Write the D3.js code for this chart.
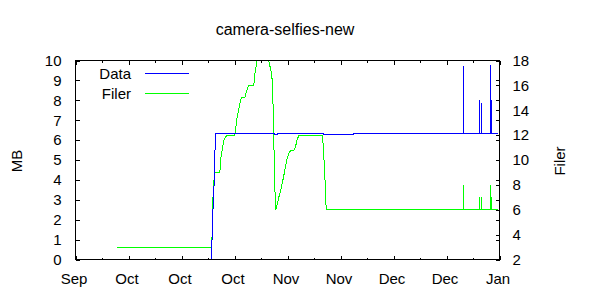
<!DOCTYPE html>
<html>
<head>
<meta charset="utf-8">
<script src="https://cdn.jsdelivr.net/npm/d3@7"></script>
<style>
  body { margin: 0; background: #fff; }
  text { font-family: "Liberation Sans", Arial, sans-serif; fill: #000; }
</style>
</head>
<body>
<div id="chart"></div>
<script>
// Data series: [time, value]
let dataPoints = [
  ["2012-10-22 22:00", 0], ["2012-10-23 06:30", 2.4], ["2012-10-23 12:00", 3.0],
  ["2012-10-23 14:40", 3.9], ["2012-10-23 20:20", 5.5], ["2012-10-24 02:40", 6.33],
  ["2012-11-08 13:00", 6.33], ["2012-11-08 14:00", 6.28], ["2012-11-09 08:00", 6.28],
  ["2012-11-09 09:00", 6.33], ["2012-11-21 10:00", 6.33], ["2012-11-21 11:00", 6.28],
  ["2012-11-29 08:00", 6.28], ["2012-11-29 09:00", 6.33],
  ["2012-12-28 12:00", 6.33], ["2012-12-28 13:00", 9.71], ["2012-12-28 14:00", 6.33],
  ["2013-01-01 18:00", 6.33], ["2013-01-01 19:00", 8.04], ["2013-01-01 20:00", 6.33],
  ["2013-01-02 07:00", 6.33], ["2013-01-02 08:00", 7.84], ["2013-01-02 09:00", 6.33],
  ["2013-01-04 16:00", 6.33], ["2013-01-04 17:00", 9.75], ["2013-01-04 18:00", 6.33],
  ["2013-01-04 22:00", 6.33], ["2013-01-04 23:00", 8.04], ["2013-01-05 00:00", 6.33],
  ["2013-01-06 15:50", 6.33]
];

let filerPoints = [
  ["2012-09-27 20:00", 3], ["2012-10-23 00:00", 3], ["2012-10-23 06:30", 6.7],
  ["2012-10-23 12:45", 8.2], ["2012-10-23 19:10", 9.0], ["2012-10-25 03:00", 9.0],
  ["2012-10-25 09:00", 10.1], ["2012-10-25 15:30", 10.6], ["2012-10-25 22:00", 11.1],
  ["2012-10-26 04:00", 11.6], ["2012-10-26 21:20", 11.95], ["2012-10-29 02:00", 11.95],
  ["2012-10-29 14:40", 13.3], ["2012-10-30 03:20", 14.1], ["2012-10-30 16:00", 14.9],
  ["2012-10-30 22:20", 15.0], ["2012-10-31 17:20", 15.0], ["2012-11-01 06:00", 15.6],
  ["2012-11-01 18:40", 16.0], ["2012-11-03 02:20", 16.0], ["2012-11-03 08:40", 16.9],
  ["2012-11-04 03:40", 18.4], ["2012-11-04 11:20", 18.8], ["2012-11-06 06:30", 18.8],
  ["2012-11-07 01:30", 18.0], ["2012-11-07 07:40", 17.6], ["2012-11-07 14:10", 17.25],
  ["2012-11-07 20:25", 16.9], ["2012-11-08 02:50", 15.3], ["2012-11-08 09:10", 11.6],
  ["2012-11-08 15:35", 7.8], ["2012-11-08 21:50", 6.0], ["2012-11-09 04:05", 6.3],
  ["2012-11-09 16:50", 7.0], ["2012-11-10 05:30", 7.6], ["2012-11-10 18:10", 8.35],
  ["2012-11-11 07:00", 9.15], ["2012-11-11 19:25", 10.0], ["2012-11-12 08:10", 10.5],
  ["2012-11-12 20:50", 10.8], ["2012-11-13 15:50", 10.8], ["2012-11-14 02:40", 11.0],
  ["2012-11-14 11:00", 11.6], ["2012-11-14 23:30", 11.95], ["2012-11-21 04:05", 11.95],
  ["2012-11-21 10:20", 11.2], ["2012-11-21 16:50", 9.7], ["2012-11-21 23:00", 8.1],
  ["2012-11-22 05:20", 6.0],
  ["2012-12-28 12:00", 6], ["2012-12-28 13:00", 8], ["2012-12-28 14:00", 6],
  ["2013-01-01 18:00", 6], ["2013-01-01 19:00", 7], ["2013-01-01 20:00", 6],
  ["2013-01-02 07:00", 6], ["2013-01-02 08:00", 7], ["2013-01-02 09:00", 6],
  ["2013-01-04 16:00", 6], ["2013-01-04 17:00", 8], ["2013-01-04 18:00", 6],
  ["2013-01-04 22:00", 6], ["2013-01-04 23:00", 7], ["2013-01-05 00:00", 6],
  ["2013-01-06 15:50", 6]
];

// axes
let xRange = ["2012-09-17 00:00", "2013-01-07 00:00"];
let xMajorTicks = ["2012-09-17", "2012-10-01", "2012-10-15", "2012-10-29", "2012-11-12",
                   "2012-11-26", "2012-12-10", "2012-12-24", "2013-01-07"];
let xMinorTicks = ["2012-09-24", "2012-10-08", "2012-10-22", "2012-11-05",
                   "2012-11-19", "2012-12-03", "2012-12-17", "2012-12-31"];
let mbTicks = [0, 1, 2, 3, 4, 5, 6, 7, 8, 9, 10];
let filerTicks = [2, 4, 6, 8, 10, 12, 14, 16, 18];

let width = 600, height = 300;
let plotLeft = 75.5, plotRight = 499.5, plotTop = 60.5, plotBottom = 259.5;

let parseTime = d3.utcParse("%Y-%m-%d %H:%M");
let parseDay = d3.utcParse("%Y-%m-%d");

let svg = d3.select("#chart").append("svg")
  .attr("width", width)
  .attr("height", height);

let x = d3.scaleUtc()
  .domain(xRange.map(parseTime))
  .range([plotLeft, plotRight]);

let yMB = d3.scaleLinear().domain([0, 10]).range([plotBottom, plotTop]);
let yFiler = d3.scaleLinear().domain([2, 18]).range([plotBottom, plotTop]);

svg.append("clipPath").attr("id", "plotclip")
  .append("rect")
  .attr("x", plotLeft).attr("y", plotTop)
  .attr("width", plotRight - plotLeft).attr("height", plotBottom - plotTop);

let fontSize = "15px";

function styleAxis(g) {
  g.select(".domain").remove();
  g.selectAll("line").attr("stroke", "#000").attr("shape-rendering", "crispEdges");
  g.selectAll("text").style("font-size", fontSize).style("font-family", '"Liberation Sans", Arial, sans-serif');
}

// bottom / top x ticks
svg.append("g").attr("transform", "translate(0," + plotBottom + ")")
  .call(d3.axisBottom(x).tickValues(xMajorTicks.map(parseDay))
    .tickSize(-4).tickPadding(14).tickFormat(d3.utcFormat("%b")))
  .call(styleAxis)
  .selectAll("text").attr("dx", -2);
svg.append("g").attr("transform", "translate(0," + plotBottom + ")")
  .call(d3.axisBottom(x).tickValues(xMinorTicks.map(parseDay)).tickSize(-2).tickFormat(""))
  .call(styleAxis);
svg.append("g").attr("transform", "translate(0," + plotTop + ")")
  .call(d3.axisTop(x).tickValues(xMajorTicks.map(parseDay)).tickSize(-4).tickFormat(""))
  .call(styleAxis);
svg.append("g").attr("transform", "translate(0," + plotTop + ")")
  .call(d3.axisTop(x).tickValues(xMinorTicks.map(parseDay)).tickSize(-2).tickFormat(""))
  .call(styleAxis);

// left MB axis + mirror
svg.append("g").attr("transform", "translate(" + plotLeft + ",0)")
  .call(d3.axisLeft(yMB).tickValues(mbTicks).tickSize(-4).tickPadding(14))
  .call(styleAxis);
svg.append("g").attr("transform", "translate(" + plotRight + ",0)")
  .call(d3.axisRight(yMB).tickValues(mbTicks).tickSize(-4).tickFormat(""))
  .call(styleAxis);

// right Filer axis
svg.append("g").attr("transform", "translate(" + plotRight + ",0)")
  .call(d3.axisRight(yFiler).tickValues(filerTicks).tickSize(-4).tickPadding(13))
  .call(styleAxis);

// lines
let dataLine = d3.line()
  .x(d => x(parseTime(d[0])))
  .y(d => yMB(d[1]));
let filerLine = d3.line()
  .x(d => x(parseTime(d[0])))
  .y(d => yFiler(d[1]));

let plot = svg.append("g").attr("clip-path", "url(#plotclip)");

plot.append("path")
  .datum(filerPoints)
  .attr("d", filerLine)
  .attr("fill", "none")
  .attr("stroke", "#00ff00")
  .attr("stroke-width", 1)
  .attr("shape-rendering", "crispEdges");

plot.append("path")
  .datum(dataPoints)
  .attr("d", dataLine)
  .attr("fill", "none")
  .attr("stroke", "#0000ff")
  .attr("stroke-width", 1)
  .attr("shape-rendering", "crispEdges");

// border
svg.append("rect")
  .attr("x", plotLeft).attr("y", plotTop)
  .attr("width", plotRight - plotLeft).attr("height", plotBottom - plotTop)
  .attr("fill", "none").attr("stroke", "#000")
  .attr("shape-rendering", "crispEdges");

// title and axis labels
svg.append("text")
  .attr("x", 285).attr("y", 35)
  .attr("text-anchor", "middle")
  .style("font-size", "16px")
  .text("camera-selfies-new");

svg.append("text")
  .attr("transform", "translate(17,161) rotate(-90)")
  .attr("text-anchor", "middle")
  .attr("dy", "0.35em")
  .style("font-size", fontSize)
  .text("MB");

svg.append("text")
  .attr("transform", "translate(560,161) rotate(-90)")
  .attr("text-anchor", "middle")
  .attr("dy", "0.35em")
  .style("font-size", fontSize)
  .text("Filer");

// legend
let legendItems = [
  { label: "Data", color: "#0000ff" },
  { label: "Filer", color: "#00ff00" }
];
let legend = svg.selectAll(".legend")
  .data(legendItems)
  .enter()
  .append("g")
  .attr("transform", (d, i) => "translate(0," + (73.5 + i * 20) + ")");
legend.append("text")
  .attr("x", 131).attr("y", 0).attr("dy", "0.35em")
  .attr("text-anchor", "end")
  .style("font-size", fontSize)
  .text(d => d.label);
legend.append("line")
  .attr("x1", 145).attr("x2", 189)
  .attr("stroke", d => d.color)
  .attr("shape-rendering", "crispEdges");
</script>
</body>
</html>
